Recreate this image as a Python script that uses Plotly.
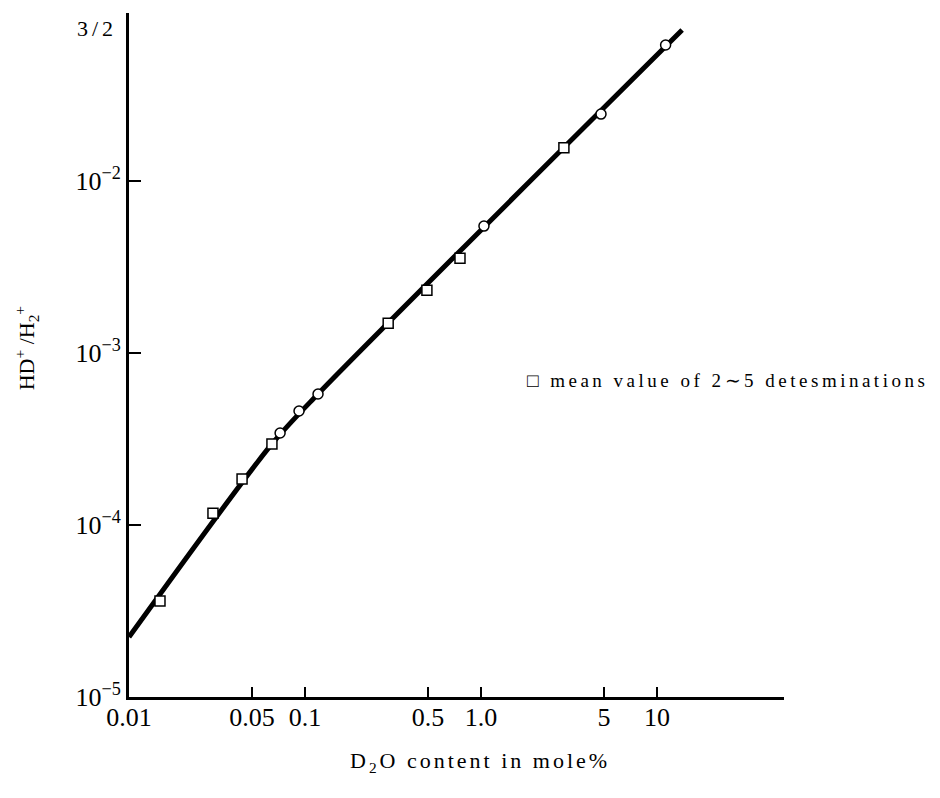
import plotly.graph_objects as go

# Data
sq_x = [0.0150, 0.0300, 0.0439, 0.0649, 0.297, 0.493, 0.760, 2.96]
sq_y = [3.61e-5, 1.17e-4, 1.85e-4, 2.96e-4, 1.49e-3, 2.32e-3, 3.56e-3, 1.56e-2]

ci_x = [0.0722, 0.0925, 0.1186, 1.04, 4.81, 11.2]
ci_y = [3.43e-4, 4.60e-4, 5.78e-4, 5.47e-3, 2.45e-2, 6.18e-2]

line_x = [0.01, 0.0649, 0.1186, 13.9]
line_y = [2.23e-5, 2.96e-4, 5.78e-4, 7.55e-2]

x_tickvals = [0.01, 0.05, 0.1, 0.5, 1.0, 5, 10]
x_ticktext = ["0.01", "0.05", "0.1", "0.5", "1.0", "5", "10"]
y_tickvals = [1e-5, 1e-4, 1e-3, 1e-2]
y_ticktext = ["10<sup>−5</sup>", "10<sup>−4</sup>", "10<sup>−3</sup>", "10<sup>−2</sup>"]

FONT = "Liberation Serif"

fig = go.Figure()
fig.add_trace(go.Scatter(x=line_x, y=line_y, mode="lines",
                         line=dict(color="black", width=5, shape="spline", smoothing=0.8),
                         hoverinfo="skip", showlegend=False))
fig.add_trace(go.Scatter(x=sq_x, y=sq_y, mode="markers",
                         marker=dict(symbol="square", size=10, color="white",
                                     line=dict(color="black", width=1.5)),
                         showlegend=False))
fig.add_trace(go.Scatter(x=ci_x, y=ci_y, mode="markers",
                         marker=dict(symbol="circle", size=10, color="white",
                                     line=dict(color="black", width=1.5)),
                         showlegend=False))

fig.update_layout(
    width=924, height=782,
    margin=dict(l=121, r=148, t=5, b=93),
    paper_bgcolor="white", plot_bgcolor="white",
    font=dict(family=FONT, color="black"),
    showlegend=False,
    xaxis=dict(type="log", range=[-2, 1.722], showgrid=False, zeroline=False,
               showline=True, linecolor="black", linewidth=3,
               ticks="inside", ticklen=10, tickwidth=1.5, tickcolor="black",
               tickvals=x_tickvals, ticktext=x_ticktext, ticklabelstandoff=-5,
               tickfont=dict(family=FONT, size=26, color="black")),
    yaxis=dict(type="log", range=[-5, -1.023], showgrid=False, zeroline=False,
               showline=True, linecolor="black", linewidth=3,
               ticks="inside", ticklen=12, tickwidth=1.5, tickcolor="black",
               tickvals=y_tickvals, ticktext=y_ticktext,
               tickfont=dict(family=FONT, size=26, color="black")),
    annotations=[
        dict(text='<span style="letter-spacing:4px">3/2</span>', xref="paper", yref="paper",
             x=-0.0154, y=0.978, xanchor="right", yanchor="middle", showarrow=False,
             font=dict(family=FONT, size=22, color="black")),
        dict(text="HD<sup>+</sup> /H<sub>2</sub><sup>+</sup>", xref="paper", yref="paper",
             x=-0.157, y=0.51, textangle=-90, xanchor="center", yanchor="middle",
             showarrow=False, font=dict(family=FONT, size=22, color="black")),
        dict(text='<span style="letter-spacing:3px">D<sub>2</sub>O content in mole%</span>',
             xref="paper", yref="paper", x=0.536, y=-0.095, xanchor="center", yanchor="middle",
             showarrow=False, font=dict(family=FONT, size=22, color="black")),
        dict(text='<span style="letter-spacing:3.5px">□ mean value of 2∼5 detesminations</span>',
             xref="paper", yref="paper", x=0.605, y=0.462, xanchor="left", yanchor="middle",
             showarrow=False, font=dict(family=FONT, size=19, color="black")),
    ],
)

fig.write_html("out.html")
